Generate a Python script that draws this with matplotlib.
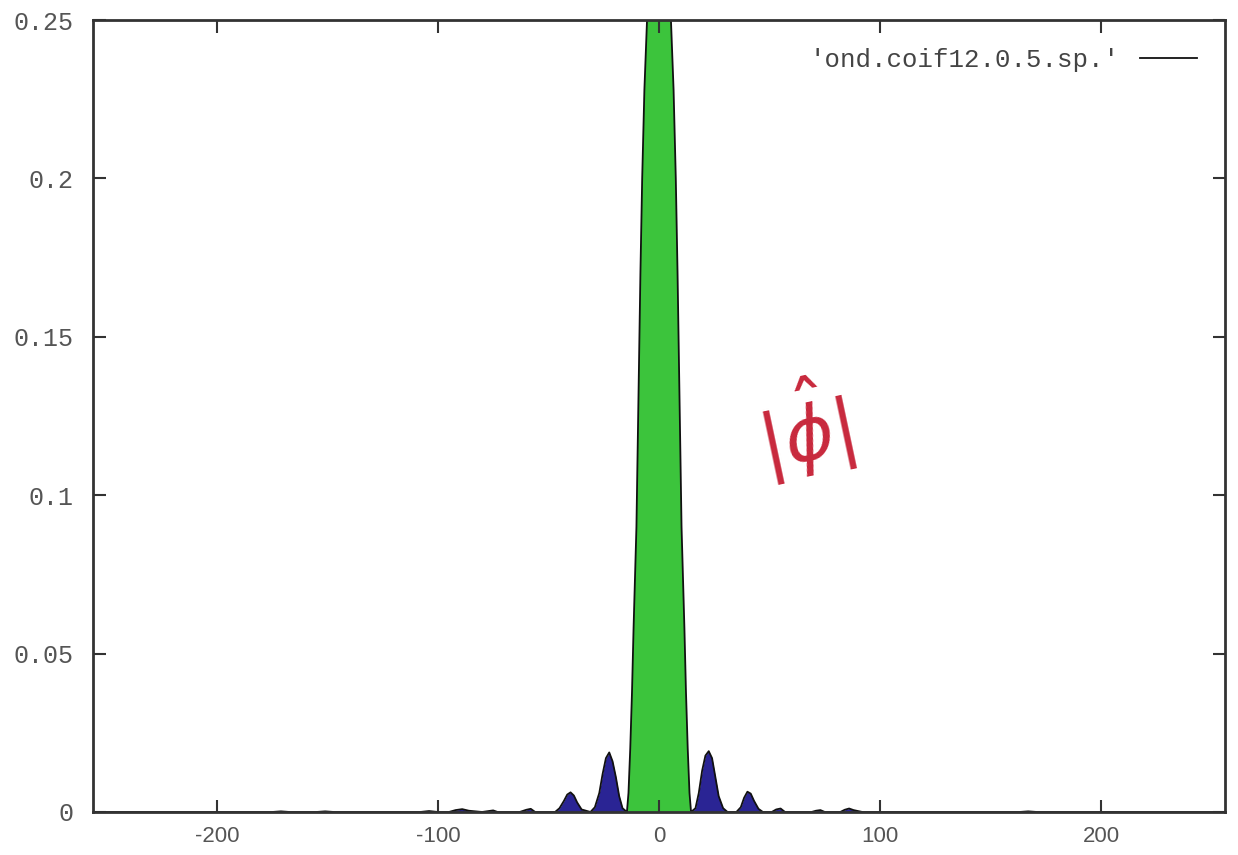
import matplotlib
matplotlib.use("Agg")
from matplotlib import pyplot as plt

# spectrum |phi_hat| (frequency, magnitude)
side_freq = [-256, -175, -171, -167, -155, -151, -147, -108, -104, -100,
             -95, -92, -89, -86, -80, -77, -75, -73, -63, -60, -58, -56,
             -47, -45, -43, -41.5, -40, -38.5, -37, -35, -31, -29, -27,
             -25.5, -24, -22.5, -21, -19.5, -18, -16.5, -14.5]
side_amp = [0, 0, 0.0002, 0, 0, 0.0002, 0, 0, 0.0003, 0,
            0, 0.0006, 0.0009, 0.0004, 0, 0.0003, 0.0005, 0, 0, 0.0007, 0.001, 0,
            0, 0.0012, 0.0035, 0.0055, 0.0062, 0.0052, 0.003, 0.0008, 0, 0.0015, 0.006,
            0.012, 0.017, 0.0188, 0.016, 0.011, 0.005, 0.0012, 0]

main_freq = [-14.5, -13.8, -13.0, -12.2, -11.5, -10.2, -9.3, -8.4, -7.6, -6.6, -5.3, -3.0,
             0, 3.0, 5.3, 6.6, 7.6, 8.4, 9.3, 10.2, 11.5, 12.2, 13.0, 13.8, 14.5]
main_amp = [0, 0.006, 0.02, 0.038, 0.058, 0.09, 0.13, 0.17, 0.2, 0.228, 0.252, 0.283,
            0.30, 0.283, 0.252, 0.228, 0.2, 0.17, 0.13, 0.09, 0.058, 0.038, 0.02, 0.006, 0]

right_freq = [14.5, 16.5, 18, 19.5, 21, 22.5, 24, 25.5, 27, 29, 31,
              35, 37, 38.5, 40, 41.5, 43, 45, 47,
              51, 53, 55, 57, 69, 71, 73, 75, 82, 84, 86, 88, 92,
              163, 167, 171, 256]
right_amp = [0, 0.0012, 0.006, 0.013, 0.0178, 0.0192, 0.017, 0.011, 0.005, 0.0012, 0,
             0, 0.0015, 0.0045, 0.0064, 0.0058, 0.0035, 0.001, 0,
             0, 0.0008, 0.0011, 0, 0, 0.0004, 0.0006, 0, 0, 0.0007, 0.0011, 0.0006, 0,
             0, 0.0002, 0, 0]

y_ticks = [0, 0.05, 0.1, 0.15, 0.2, 0.25]
y_labels = ["0", "0.05", "0.1", "0.15", "0.2", "0.25"]
x_ticks = [-200, -100, 0, 100, 200]

green = "#3cc43c"
blue = "#2a2494"

fig = plt.figure(figsize=(12.38, 8.55), dpi=100)
ax = fig.add_axes([0.0751, 0.0503, 0.9144, 0.9263])

ax.fill_between(side_freq, side_amp, 0, color=blue, lw=0)
ax.fill_between(right_freq, right_amp, 0, color=blue, lw=0)
ax.fill_between(main_freq, main_amp, 0, color=green, lw=0)

all_freq = side_freq + main_freq[1:] + right_freq[1:]
all_amp = side_amp + main_amp[1:] + right_amp[1:]
ax.plot(all_freq, all_amp, color="#111111", lw=1.3, label="'ond.coif12.0.5.sp.'")

ax.set_xlim(-256, 256)
ax.set_ylim(0, 0.25)
ax.set_xticks(x_ticks)
ax.set_xticklabels([str(t) for t in x_ticks], family="Liberation Sans", fontsize=16, color="#555555")
ax.set_yticks(y_ticks)
ax.set_yticklabels(y_labels, family="Liberation Mono", fontsize=18, color="#555555")
ax.tick_params(direction="in", length=9, width=1.5, top=True, right=True, colors="#333333")
ax.tick_params(axis="x", pad=10, labelcolor="#555555")
ax.tick_params(axis="y", pad=14, labelcolor="#555555")
for s in ax.spines.values():
    s.set_linewidth(2)
    s.set_color("#333333")

ax.legend(loc="upper right", frameon=False, markerfirst=False, handlelength=2.2,
          prop={"family": "Liberation Mono", "size": 18.5}, labelcolor="#444444",
          borderaxespad=0.7)

# handwritten note on the scan
ax.text(65, 0.121, r"$|\hat{\phi}|$", color="#c8283c", fontsize=54,
        ha="center", va="center", rotation=12)

fig.savefig("out.png", dpi=100)
